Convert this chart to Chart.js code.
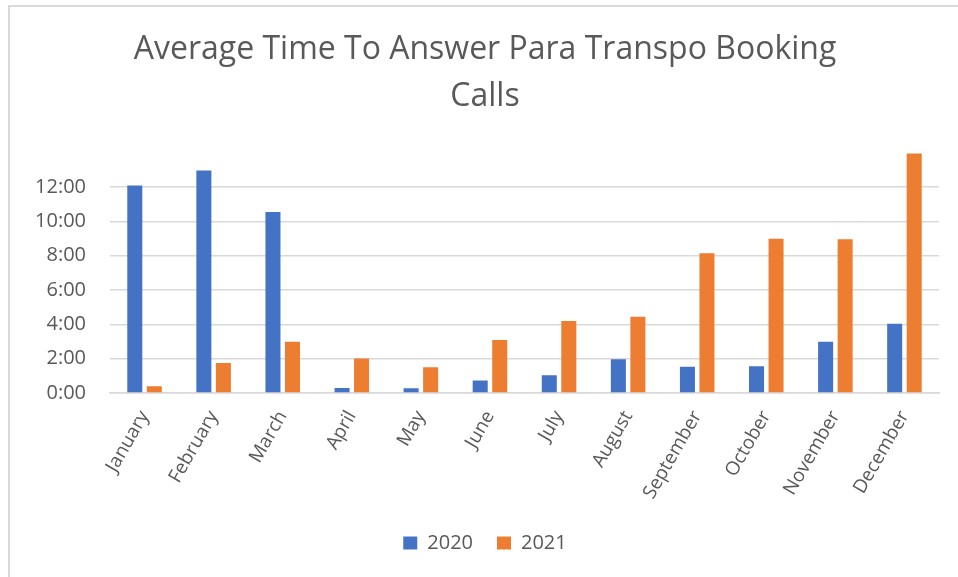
<!DOCTYPE html>
<html>
<head>
<meta charset="utf-8">
<script src="https://cdn.jsdelivr.net/npm/chart.js@4"></script>
<style>
  html, body { margin: 0; padding: 0; background: #fff; }
  #wrap { position: relative; width: 958px; height: 577px; }
  #frame { position: absolute; left: 8px; top: 5px; right: 0; bottom: 0; border-left: 2px solid #d9d9d9; border-top: 2px solid #d9d9d9; }
  canvas { position: absolute; left: 0; top: 0; }
</style>
</head>
<body>
<div id="wrap">
  <div id="frame"></div>
  <canvas id="chart" width="958" height="577"></canvas>
</div>
<script>
// Chart data (values are minutes)
const months = ['January', 'February', 'March', 'April', 'May', 'June', 'July', 'August', 'September', 'October', 'November', 'December'];
const series2020 = [12.10, 12.97, 10.55, 0.29, 0.27, 0.72, 1.03, 1.97, 1.53, 1.55, 2.98, 4.03];
const series2021 = [0.39, 1.74, 2.98, 2.01, 1.49, 3.08, 4.20, 4.45, 8.15, 9.00, 8.96, 13.97];
const yTicks = [0, 2, 4, 6, 8, 10, 12];

const textColor = '#595959';
const gridColor = '#d9d9d9';

// minutes -> m:ss
function fmtMinutes(v) {
  const total = Math.round(v * 60);
  const m = Math.floor(total / 60);
  const s = total % 60;
  return m + ':' + String(s).padStart(2, '0');
}

new Chart(document.getElementById('chart'), {
  type: 'bar',
  data: {
    labels: months,
    datasets: [
      { label: '2020', data: series2020, backgroundColor: '#4472C4', categoryPercentage: 0.565, barPercentage: 0.77 },
      { label: '2021', data: series2021, backgroundColor: '#ED7D31', categoryPercentage: 0.565, barPercentage: 0.77 }
    ]
  },
  options: {
    responsive: false,
    animation: false,
    layout: { autoPadding: false, padding: { left: 31, right: 19, top: 27, bottom: 14 } },
    plugins: {
      title: {
        display: true,
        text: ['Average Time To Answer Para Transpo Booking', 'Calls'],
        color: textColor,
        font: { family: 'Open Sans, sans-serif', size: 32, weight: 'normal', lineHeight: 1.45 },
        padding: { top: 0, bottom: 28 }
      },
      legend: {
        position: 'bottom',
        labels: {
          color: textColor,
          boxWidth: 14,
          boxHeight: 13,
          padding: 24,
          font: { family: 'Open Sans, sans-serif', size: 20 }
        }
      },
      tooltip: { enabled: false }
    },
    scales: {
      y: {
        min: 0,
        max: 14.3,
        afterBuildTicks: axis => { axis.ticks = yTicks.map(v => ({ value: v })); },
        afterFit: axis => { axis.width = 79; },
        border: { display: false },
        grid: { color: gridColor, lineWidth: 1.5, drawTicks: false },
        ticks: {
          color: textColor,
          padding: 24,
          font: { family: 'Open Sans, sans-serif', size: 20 },
          callback: v => fmtMinutes(v)
        }
      },
      x: {
        border: { display: true, color: gridColor, width: 1.5 },
        grid: { display: false },
        ticks: {
          color: textColor,
          minRotation: 60,
          maxRotation: 60,
          padding: 6,
          font: { family: 'Open Sans, sans-serif', size: 19 }
        }
      }
    }
  }
});
</script>
</body>
</html>
